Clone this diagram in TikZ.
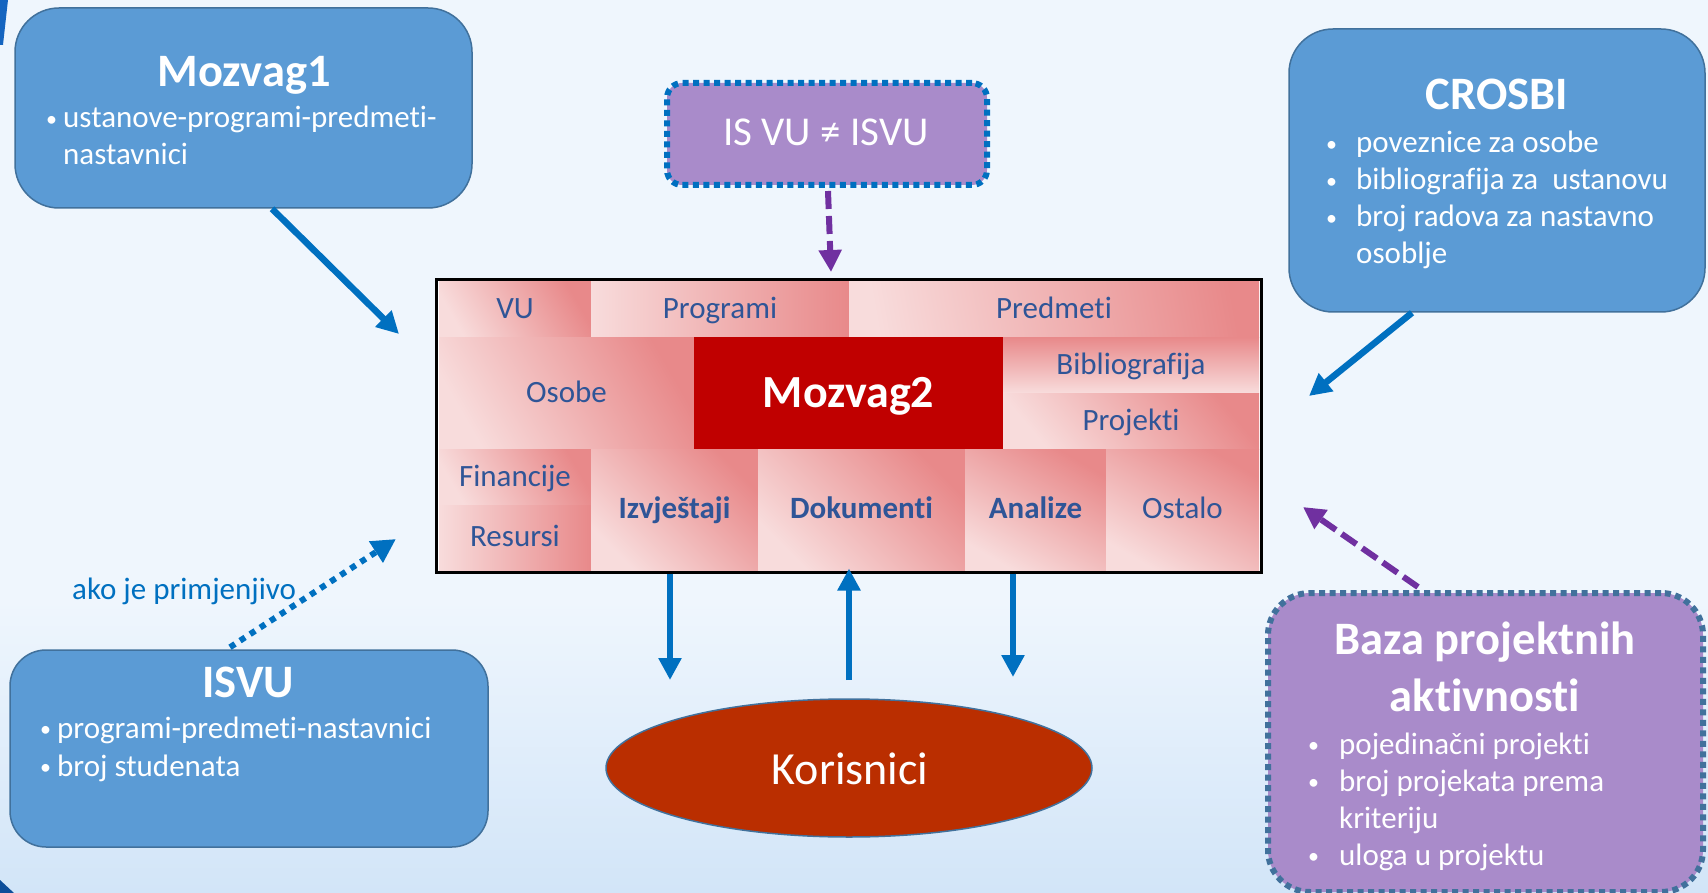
\documentclass[tikz,border=0pt]{standalone}
\usepackage{fontspec}
\setmainfont{Carlito}[Ligatures=NoCommon]
\usetikzlibrary{arrows.meta,shapes.geometric,calc}
\definecolor{bg}{HTML}{EFF6FD}
\definecolor{bgB}{HTML}{D2E5F8}
\definecolor{boxblue}{HTML}{5B9BD5}
\definecolor{boxedge}{HTML}{41719C}
\definecolor{arrblue}{HTML}{0070C0}
\definecolor{purfill}{HTML}{A98BCA}
\definecolor{purarr}{HTML}{7030A0}
\definecolor{celltext}{HTML}{2F5597}
\definecolor{pinkL}{HTML}{F8DCDC}
\definecolor{pinkD}{HTML}{E8898A}
\definecolor{mred}{HTML}{C00000}
\definecolor{korfill}{HTML}{BA2E00}
\definecolor{decoblue}{HTML}{1565C0}
\definecolor{decodark}{HTML}{0D4E9A}
\newcommand\mybul{\raisebox{1.5pt}{\fontsize{22}{22}\selectfont •}}
\begin{document}
\begin{tikzpicture}[x=1pt,y=-1pt,
  bluebox/.style={draw=boxedge, line width=1.5pt, fill=boxblue, inner sep=0pt},
  purbox/.style={fill=purfill, line width=6pt, dash pattern=on 6pt off 4.5pt, inner sep=0pt},
  ttl/.style={font=\fontsize{46.5}{56}\selectfont\bfseries, text=white, inner sep=0pt},
  bodytxt/.style={font=\fontsize{31}{37}\selectfont, text=white, inner sep=0pt, anchor=base west},
  cellbox/.style={shade, top color=pinkD, bottom color=pinkL, inner sep=0pt, text=celltext,
    font=\fontsize{31}{37}\selectfont, text height=23pt, text depth=4.5pt},
  solidarrow/.style={draw=arrblue, line width=6.5pt, -{Triangle[width=22pt,length=22pt]}},
  purarrow/.style={draw=purarr, line width=6pt, dash pattern=on 18pt off 7pt, -{Triangle[width=22pt,length=22pt]}},
  dotarrow/.style={draw=arrblue, line width=6pt, dash pattern=on 6pt off 6pt, -{Triangle[width=24pt,length=24pt]}}
]
\useasboundingbox (0,0) rectangle (1708,893);
% background
\fill[bg] (0,0) rectangle (1708,893);
\shade[top color=bg, bottom color=bgB] (0,600) rectangle (1708,893);
\fill[decoblue] (0,0) -- (8,0) -- (3,45) -- (0,45) -- cycle;
\fill[decodark] (0,880) -- (14,893) -- (0,893) -- cycle;

% Mozvag1
\node[bluebox, rounded corners=44pt, minimum width=457pt, minimum height=200pt] (m1) at (243.5,108) {};
\node[ttl, anchor=base] (m1t) at (244,87) {Mozvag1};
\node[bodytxt] (m1a) at (46,128) {\makebox[17pt][l]{\mybul}ustanove-programi-predmeti-};
\node[bodytxt] (m1b) at (63,165) {nastavnici};

% IS VU box
\node[purbox, draw=arrblue, rounded corners=15pt, minimum width=320pt, minimum height=102pt] (isvu) at (827,134) {};
\node[font=\fontsize{41}{49}\selectfont, text=white, inner sep=0pt, anchor=base] (isvut) at (826,146) {IS VU ≠ ISVU};

% CROSBI
\node[bluebox, rounded corners=44pt, minimum width=416pt, minimum height=283pt] (cr) at (1497,170.5) {};
\node[ttl, anchor=base] (crt) at (1497,110) {CROSBI};
\node[bodytxt] (cra) at (1326,153) {\makebox[30pt][l]{\mybul}poveznice za osobe};
\node[bodytxt] (crb) at (1326,190) {\makebox[30pt][l]{\mybul}bibliografija za~ ustanovu};
\node[bodytxt] (crc) at (1326,227) {\makebox[30pt][l]{\mybul}broj radova za nastavno};
\node[bodytxt] (crd) at (1356,264) {osoblje};

% central grid
\node[draw=black, line width=3pt, fill=white, minimum width=825pt, minimum height=292pt, inner sep=0pt] (grid) at (848.5,426) {};
\node[cellbox, shading angle=-60, minimum width=152pt, minimum height=55pt] (vu) at (515,309.5) {VU};
\node[cellbox, shading angle=-90, minimum width=258pt, minimum height=55pt] (prog) at (720,309.5) {Programi};
\node[cellbox, shading angle=-80, minimum width=410pt, minimum height=55pt] (pred) at (1054,309.5) {Predmeti};
\node[cellbox, shading angle=-60, minimum width=255pt, minimum height=112pt] (osobe) at (566.5,393) {Osobe};
\node[fill=mred, inner sep=0pt, text=white, font=\fontsize{46}{54}\selectfont\bfseries, text height=34pt, text depth=6pt, minimum width=309pt, minimum height=112pt] (m2) at (848.5,393) {Mozvag2};
\node[cellbox, shading angle=0, minimum width=256pt, minimum height=56pt] (bib) at (1131,365) {Bibliografija};
\node[cellbox, shading angle=-50, minimum width=256pt, minimum height=56pt] (proj) at (1131,421) {Projekti};
\node[cellbox, shading angle=-60, minimum width=152pt, minimum height=56pt] (fin) at (515,477) {Financije};
\node[cellbox, shading angle=-90, minimum width=152pt, minimum height=65pt] (res) at (515,537.5) {Resursi};
\node[cellbox, shading angle=-45, minimum width=167pt, minimum height=121pt, font=\fontsize{31}{37}\selectfont\bfseries] (izv) at (674.5,509.5) {Izvještaji};
\node[cellbox, shading angle=-45, minimum width=207pt, minimum height=121pt, font=\fontsize{31}{37}\selectfont\bfseries] (dok) at (861.5,509.5) {Dokumenti};
\node[cellbox, shading angle=-30, minimum width=141pt, minimum height=121pt, font=\fontsize{31}{37}\selectfont\bfseries] (ana) at (1035.5,509.5) {Analize};
\node[cellbox, shading angle=-30, minimum width=153pt, minimum height=121pt] (ost) at (1182.5,509.5) {Ostalo};

% ISVU
\node[bluebox, rounded corners=36pt, minimum width=478pt, minimum height=197pt] (isvu2) at (249,748.5) {};
\node[ttl, anchor=base] (isvu2t) at (248,697) {ISVU};
\node[bodytxt] (isa) at (40,738) {\makebox[17pt][l]{\mybul}programi-predmeti-nastavnici};
\node[bodytxt] (isb) at (40,776) {\makebox[17pt][l]{\mybul}broj studenata};
\node[font=\fontsize{31}{37}\selectfont, text=arrblue, inner sep=0pt, anchor=base west] (ako) at (72,599) {ako je primjenjivo};

% Korisnici
\node[ellipse, draw=boxedge, line width=1.5pt, fill=korfill, minimum width=486pt, minimum height=138pt, inner sep=0pt] (kor) at (849,768) {};
\node[font=\fontsize{46}{55}\selectfont, text=white, inner sep=0pt, anchor=base] (kort) at (850,784) {Korisnici};

% Baza projektnih aktivnosti
\node[purbox, draw=boxedge, dash pattern=on 6pt off 4.5pt, rounded corners=42pt, minimum width=435pt, minimum height=299pt] (baza) at (1485.5,742.5) {};
\node[ttl, anchor=base] (bazat1) at (1485,654) {Baza projektnih};
\node[ttl, anchor=base] (bazat2) at (1485,711) {aktivnosti};
\node[bodytxt] (bza) at (1308,754) {\makebox[31pt][l]{\mybul}pojedinačni projekti};
\node[bodytxt] (bzb) at (1308,791) {\makebox[31pt][l]{\mybul}broj projekata prema};
\node[bodytxt] (bzc) at (1339,828) {kriteriju};
\node[bodytxt] (bzd) at (1308,865) {\makebox[31pt][l]{\mybul}uloga u projektu};

% connectors
\coordinate (m1e) at (399,334);
\draw[solidarrow] ($(m1.south)+(28.5,0)$) -- (m1e);
\coordinate (cre) at (1309,396);
\draw[solidarrow] ($(cr.south)+(-85,0)$) -- (cre);
\coordinate (isve) at (831,272);
\draw[purarrow] ($(isvu.south)+(1,3)$) -- (isve);
\coordinate (dote) at (396,539);
\draw[dotarrow] ($(isvu2.north)+(-19,-2)$) -- (dote);
\coordinate (bze) at (1303,507);
\draw[purarrow] ($(baza.north)+(-67.5,-3)$) -- (bze);
\coordinate (a1e) at (670,680);
\draw[solidarrow] (grid.south -| a1e) -- (a1e);
\coordinate (a2s) at (849,680);
\draw[solidarrow] (a2s) -- ($(a2s |- grid.south)+(0,-5)$);
\coordinate (a3e) at (1013,677);
\draw[solidarrow] (grid.south -| a3e) -- (a3e);
\end{tikzpicture}
\end{document}
